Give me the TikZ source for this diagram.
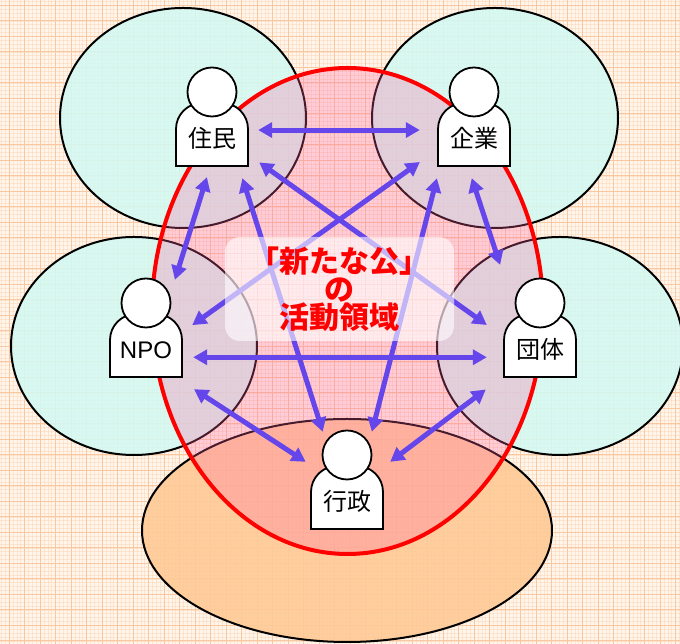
\documentclass[tikz,border=0pt]{standalone}
\usepackage{fontspec}
\setmainfont{Noto Sans CJK JP}
\newfontfamily\latinsans{Liberation Sans}
\usetikzlibrary{arrows.meta}

\definecolor{bgc}{RGB}{255,245,235}
\definecolor{gridc}{RGB}{250,200,160}
\definecolor{cyanc}{RGB}{210,250,244}
\definecolor{orangec}{RGB}{255,202,150}
\definecolor{pinkc}{RGB}{255,100,165}
\definecolor{arrowc}{RGB}{100,70,235}

\tikzset{
	area/.style={draw=black, line width=2pt},
	body/.style={draw=black, line width=1.8pt, fill=white},
	person/.style={font=\fontsize{24pt}{24pt}\selectfont, text height=30pt, text depth=3pt,
		minimum width=72pt, minimum height=63pt, inner sep=0pt},
	link/.style={draw=arrowc, line width=5pt,
		{Triangle[length=14pt,width=15pt]}-{Triangle[length=14pt,width=15pt]}},
	titlebox/.style={fill=white, fill opacity=0.6, text opacity=1, rounded corners=15pt,
		minimum width=229pt, minimum height=104pt, align=center, text=red,
		font=\bfseries\fontsize{30pt}{28pt}\selectfont},
}

\begin{document}
\begin{tikzpicture}[x=1pt,y=1pt]
	\useasboundingbox (0,0) rectangle (680,644);
	\fill[bgc] (0,0) rectangle (680,644);
	% grid
	\foreach \i in {0,...,175} {
		\draw[gridc, opacity=0.35, line width=0.4pt] (\i*3.875+1.25,0) -- ++(0,644);
	}
	\foreach \j in {0,...,166} {
		\draw[gridc, opacity=0.35, line width=0.4pt] (0,\j*3.875+3.2) -- ++(680,0);
	}
	\foreach \i in {0,...,43} {
		\draw[gridc, line width=0.8pt] (\i*15.5+9,0) -- ++(0,644);
	}
	\foreach \j in {0,...,41} {
		\draw[gridc, line width=0.8pt] (0,\j*15.5+3.2) -- ++(680,0);
	}

	% areas
	\draw[area, fill=cyanc, fill opacity=0.85] (183,526) ellipse [x radius=123, y radius=110];
	\draw[area, fill=cyanc, fill opacity=0.85] (495,526) ellipse [x radius=123, y radius=110];
	\draw[area, fill=cyanc, fill opacity=0.85] (134,298) ellipse [x radius=123, y radius=109];
	\draw[area, fill=cyanc, fill opacity=0.85] (560,298) ellipse [x radius=123, y radius=109];
	\draw[area, fill=orangec, fill opacity=0.9] (347,113.5) ellipse [x radius=205, y radius=111.5];
	\draw[draw=red, line width=4pt, fill=pinkc, fill opacity=0.28] (347.5,333) ellipse [x radius=195.5, y radius=243];

	% persons
	\foreach \n/\x/\y/\t in {jumin/212/509.5/住民, kigyo/474/509.5/企業, npo/146/298.5/{\latinsans NPO},
			dantai/540/298.5/団体, gyosei/347/146.5/行政} {
		\draw[body] (\x-36,\y-31.5) -- (\x-36,\y+5.5) arc[start angle=180, end angle=90, radius=26]
			-- (\x+10,\y+31.5) arc[start angle=90, end angle=0, radius=26] -- (\x+36,\y-31.5) -- cycle;
		\draw[body] (\x,\y+42.5) circle[radius=24.5];
		\node[person] (\n) at (\x,\y) {\t};
	}

	\draw[link, shorten <=10pt, shorten >=18pt] (jumin.7) -- (kigyo.173);
	\draw[link, shorten <=11.5pt, shorten >=35.6pt] (jumin.267) -- (npo.60);
	\draw[link, shorten <=13.5pt, shorten >=20.9pt] (jumin.-29) -- (dantai.167);
	\draw[link, shorten <=12.6pt, shorten >=35.7pt] (jumin.-50) -- (gyosei.113);
	\draw[link, shorten <=22.1pt, shorten >=12.3pt] (kigyo.202) -- (npo.20);
	\draw[link, shorten <=12.6pt, shorten >=51.5pt] (kigyo.259) -- (dantai.127);
	\draw[link, shorten <=12.4pt, shorten >=35.1pt] (kigyo.223) -- (gyosei.63);
	\draw[link, shorten <=11pt, shorten >=17pt] (npo.-18) -- (dantai.198);
	\draw[link, shorten <=22pt, shorten >=7.3pt] (npo.-47) -- (gyosei.138);
	\draw[link, shorten <=22.6pt, shorten >=8.8pt] (dantai.220) -- (gyosei.40);

	\node[titlebox] (title) at (339.5,355) {「新たな公」\\の\\活動領域};
\end{tikzpicture}
\end{document}
